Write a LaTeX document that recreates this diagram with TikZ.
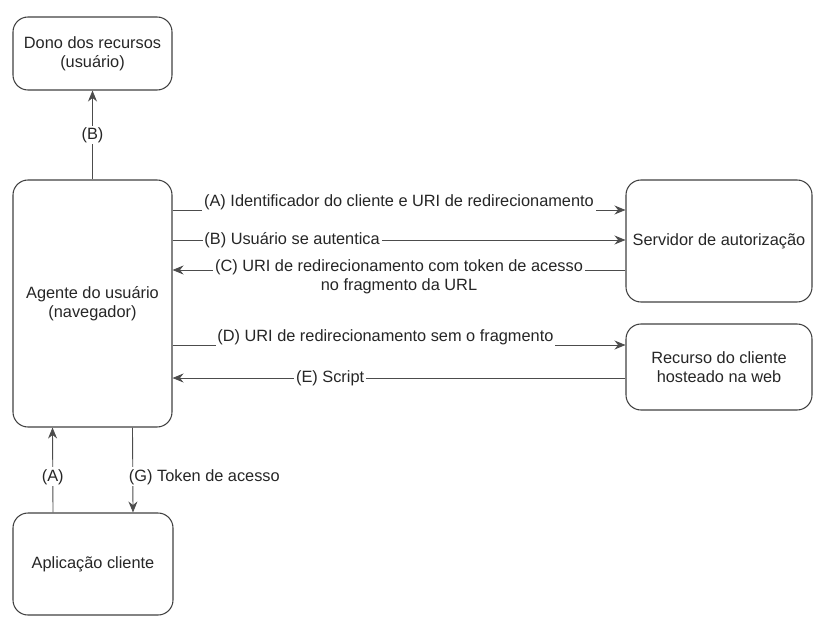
\documentclass[tikz,border=0pt]{standalone}
\usepackage{fontspec}
\setmainfont{Liberation Sans}
\usetikzlibrary{arrows.meta,positioning}
\tikzset{
  caixa/.style={draw=black!75, line width=0.6pt, rounded corners=0.3cm, align=center, text=black!85},
  seta/.style={draw=black!70, line width=0.5pt, -{Stealth[length=2.2mm,width=1.8mm]}},
  rotulo/.style={fill=white, inner sep=1pt, text=black!85, align=center}
}
\begin{document}
\begin{tikzpicture}[font=\fontsize{9.3}{10.8}\selectfont]
  \useasboundingbox (0,0) rectangle (16.32,-12.42);
  % caixas
  \node[caixa, minimum width=3.18cm, minimum height=1.46cm] (dono) at (1.85,-1.07) {Dono dos recursos\\(usuário)};
  \node[caixa, minimum width=3.18cm, minimum height=4.94cm] (agente) at (1.85,-6.07) {Agente do usuário\\(navegador)};
  \node[caixa, minimum width=3.72cm, minimum height=2.44cm] (servidor) at (14.38,-4.82) {Servidor de autorização};
  \node[caixa, minimum width=3.72cm, minimum height=1.72cm] (recurso) at (14.38,-7.34) {Recurso do cliente\\hosteado na web};
  \node[caixa, minimum width=3.2cm, minimum height=2.04cm] (aplicacao) at (1.86,-11.28) {Aplicação cliente};
  % alturas das setas
  \coordinate (ya) at (0,-4.20);
  \coordinate (yb) at (0,-4.80);
  \coordinate (yc) at (0,-5.40);
  \coordinate (yd) at (0,-6.90);
  \coordinate (ye) at (0,-7.56);
  \begin{scope}
    \draw[seta] (agente.north) -- (dono.south) node[rotulo, pos=0.5] {(B)};
    \draw[seta] (agente.east |- ya) -- (servidor.west |- ya)
      node[rotulo, midway, yshift=0.16cm] {(A) Identificador do cliente e URI de redirecionamento};
    \draw[seta] (agente.east |- yb) -- (servidor.west |- yb)
      node[rotulo, pos=0.264] {(B) Usuário se autentica};
    \draw[seta] (servidor.west |- yc) -- (agente.east |- yc)
      node[rotulo, midway, yshift=-0.14cm] {(C) URI de redirecionamento com token de acesso\\no fragmento da URL};
    \draw[seta] (agente.east |- yd) -- (recurso.west |- yd)
      node[rotulo, pos=0.47, yshift=0.16cm] {(D) URI de redirecionamento sem o fragmento};
    \draw[seta] (recurso.west |- ye) -- (agente.east |- ye)
      node[rotulo, pos=0.652] {(E) Script};
    \draw[seta] ([xshift=-0.8cm]aplicacao.north) -- ([xshift=-0.8cm]agente.south)
      node[rotulo, pos=0.42] {(A)};
    \draw[seta] ([xshift=0.8cm]agente.south) -- ([xshift=0.8cm]aplicacao.north)
      node[rotulo, pos=0.58, anchor=west, xshift=-0.12cm] {(G) Token de acesso};
  \end{scope}
\end{tikzpicture}
\end{document}
